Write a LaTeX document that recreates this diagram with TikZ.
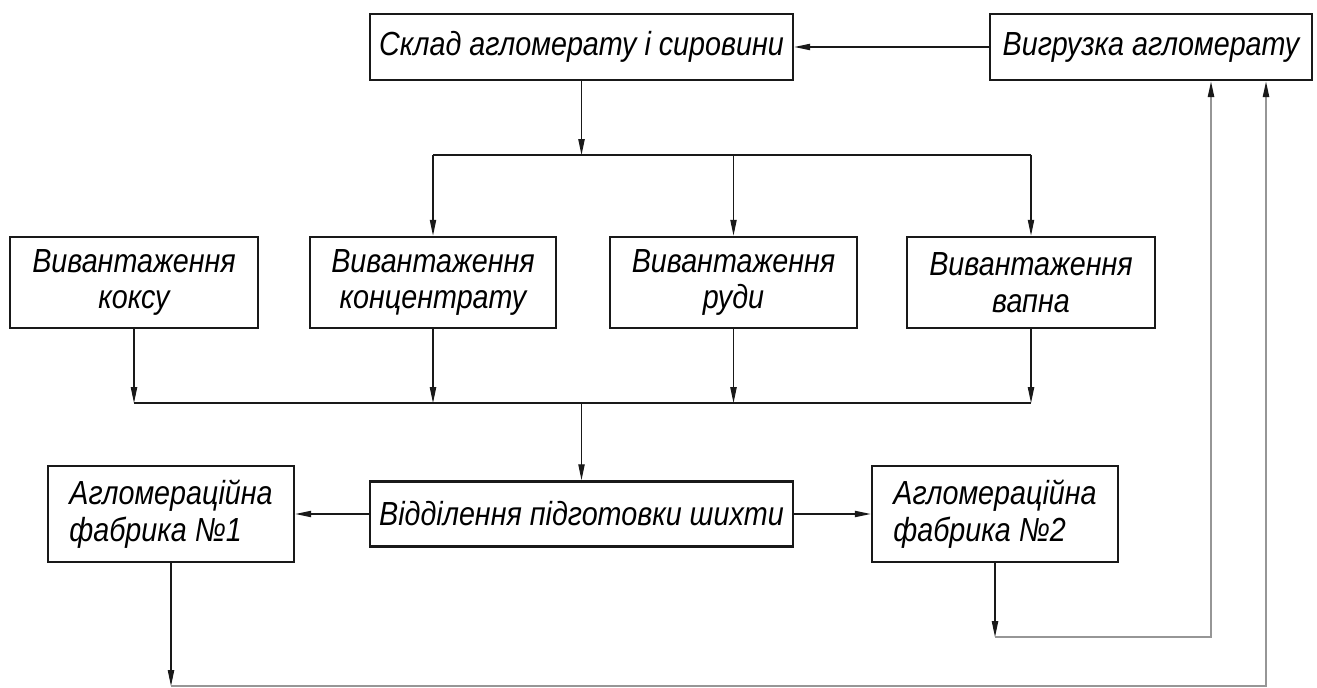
\documentclass[tikz,border=0pt]{standalone}
\usepackage{fontspec}
\setmainfont{Liberation Sans}[FakeStretch=0.86]
\usepackage{xcolor}
\usepackage{tikz}
\usetikzlibrary{arrows.meta}
\definecolor{primary}{RGB}{25, 25, 25}
\definecolor{feed}{RGB}{150, 150, 150}

\begin{document}
\begin{tikzpicture}[x=0.02cm,y=-0.02cm,
  box/.style={draw=primary,line width=1.6pt,inner sep=0pt,align=center,
    font=\fontsize{19}{21}\selectfont\itshape},
  flow/.style={primary,line width=0.6pt,-{Triangle[length=9pt,width=3.6pt]}},
  feedline/.style={feed,line width=0.9pt,-{Triangle[length=9pt,width=3.6pt,color=primary]}}]
\useasboundingbox (0,0) rectangle (1317,688);
% top row
\node[box,minimum width=8.46cm,minimum height=1.32cm] (sklad) at (581.5,47) {Склад агломерату і сировини};
\node[box,minimum width=6.44cm,minimum height=1.32cm] (vyhr) at (1151,47) {Вигрузка агломерату};
% unloading
\node[box,minimum width=4.96cm,minimum height=1.82cm] (koks) at (134,282.5) {Вивантаження\\коксу};
\node[box,minimum width=4.92cm,minimum height=1.82cm] (konc) at (433,282.5) {Вивантаження\\концентрату};
\node[box,minimum width=4.94cm,minimum height=1.82cm] (ruda) at (733.5,282.5) {Вивантаження\\руди};
\node[box,minimum width=4.96cm,minimum height=1.82cm] (vapno) at (1031,282.5) {Вивантаження\\вапна};
% sintering
\node[box,minimum width=8.46cm,minimum height=1.30cm] (shykhta) at (581.5,514) {Відділення підготовки шихти};
\node[box,align=left,minimum width=4.92cm,minimum height=1.92cm] (agl1) at (171,514) {Агломераційна\\фабрика №1};
\node[box,align=left,minimum width=4.92cm,minimum height=1.92cm] (agl2) at (995,514) {Агломераційна\\фабрика №2};
\coordinate (split) at (581.5,155);
\coordinate (merge) at (581.5,403);
\coordinate (low1) at (171,686);
\coordinate (low2) at (995,637);
\coordinate (ret1) at (1266,686);
\coordinate (ret2) at (1211,637);
\draw[flow] (vyhr.west) -- (sklad.east);
\draw[flow] (sklad.south) -- (split);
\draw[primary,line width=0.6pt] (konc.north |- split) -- (vapno.north |- split);
\foreach \n in {konc,ruda,vapno}
  \draw[flow] (\n.north |- split) -- (\n.north);
\foreach \n in {koks,konc,ruda,vapno}
  \draw[flow] (\n.south) -- (\n.south |- merge);
\draw[primary,line width=0.6pt] (koks.south |- merge) -- (vapno.south |- merge);
\draw[flow] (merge) -- (shykhta.north);
\draw[flow] (shykhta.west) -- (agl1.east);
\draw[flow] (shykhta.east) -- (agl2.west);
% return to unloading
\draw[flow] (agl1.south) -- (low1);
\draw[flow] (agl2.south) -- (low2);
\draw[feedline] (low1) -- (ret1) -- (ret1 |- vyhr.south);
\draw[feedline] (low2) -- (ret2) -- (ret2 |- vyhr.south);
\end{tikzpicture}
\end{document}
